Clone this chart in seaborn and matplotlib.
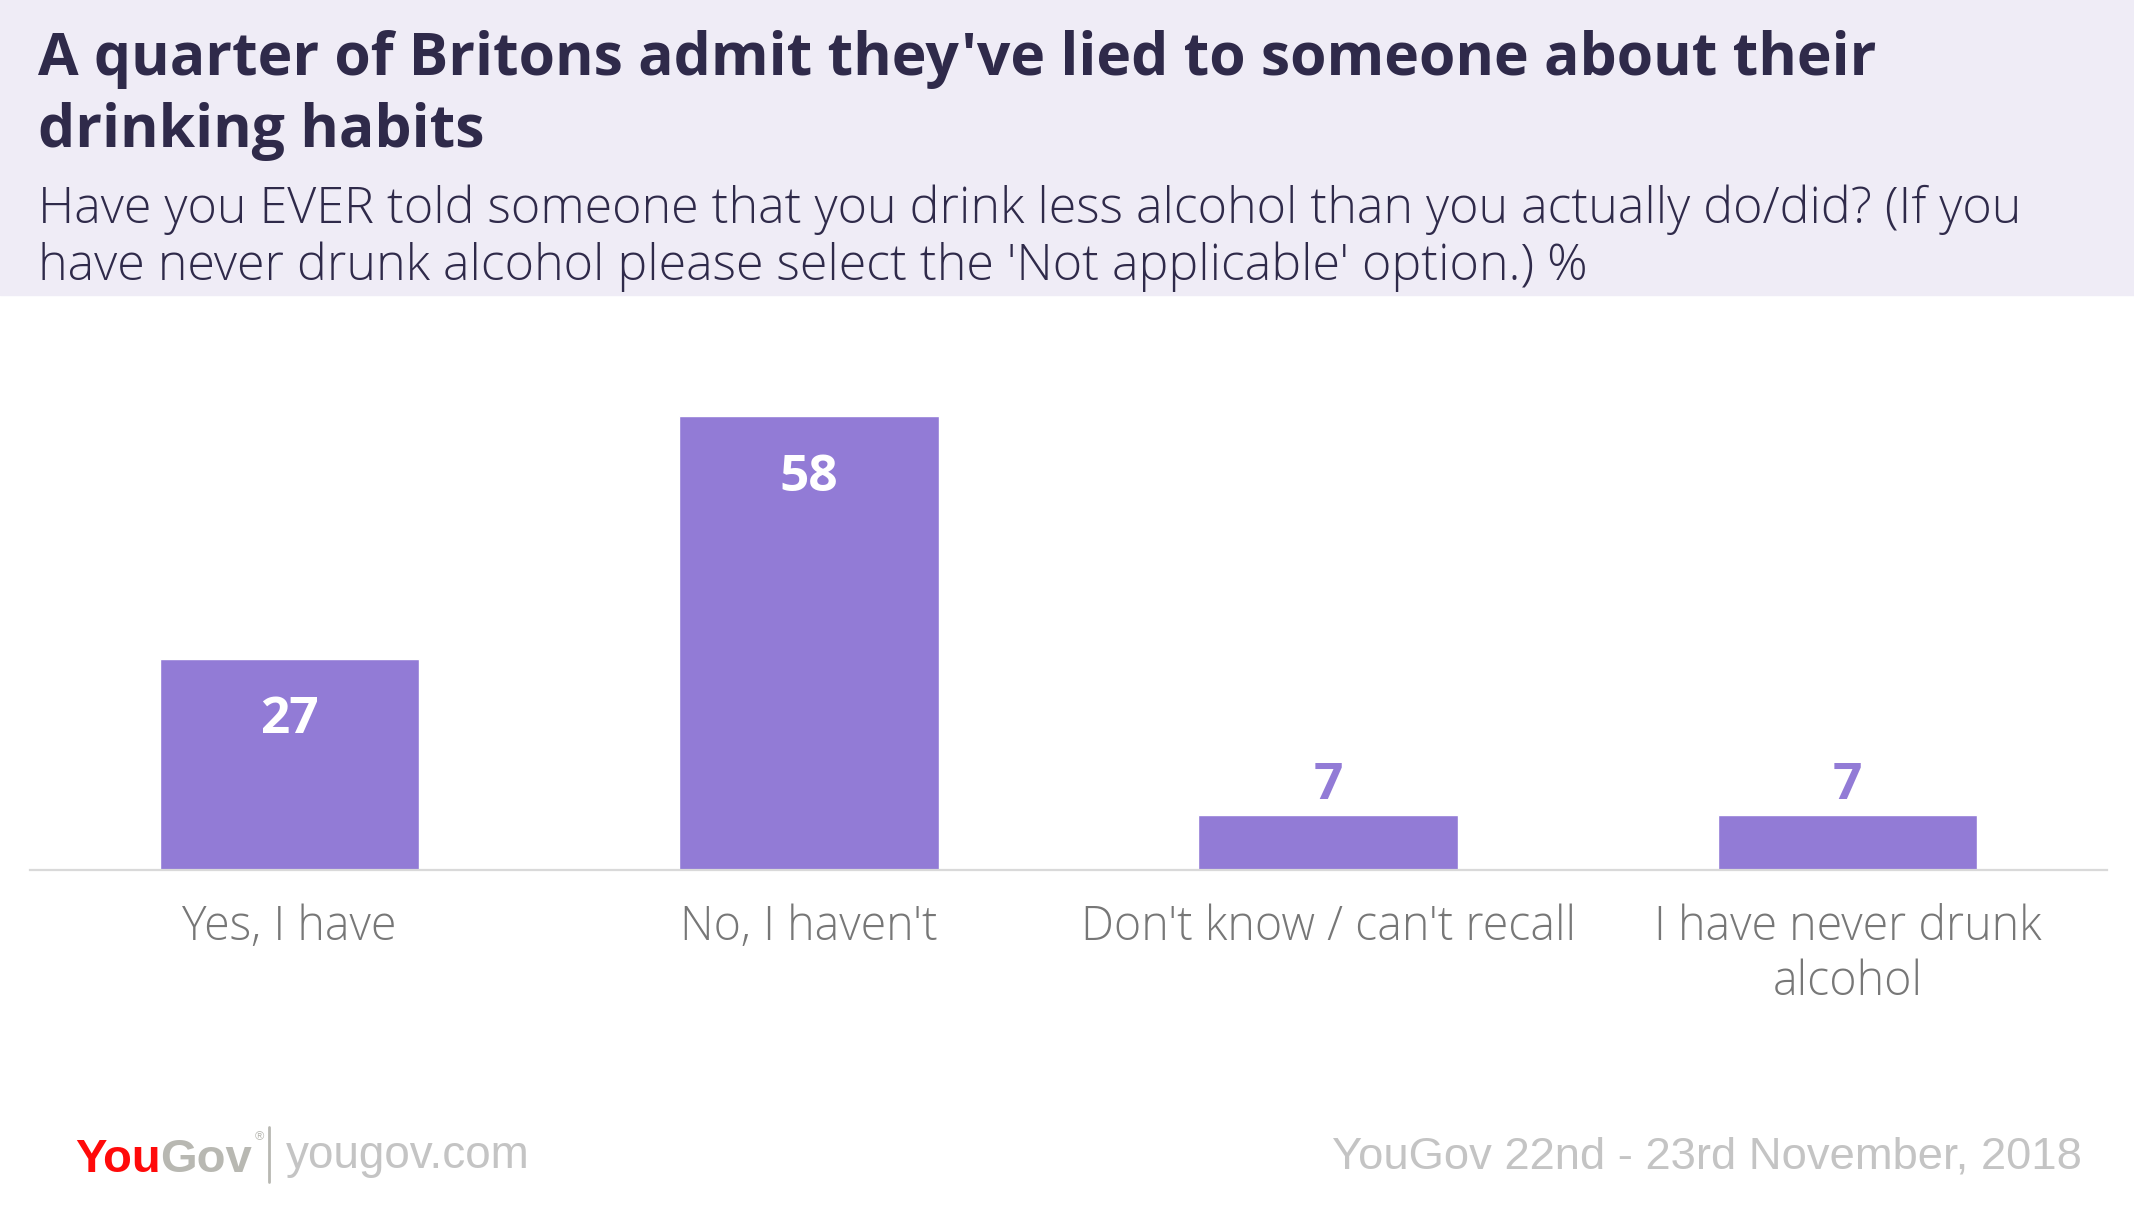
import matplotlib
matplotlib.use("Agg")
import matplotlib.pyplot as plt
import seaborn as sns
import pandas as pd

# chart data
categories = ["Yes, I have", "No, I haven't", "Don't know / can't recall",
              "I have never drunk\nalcohol"]
values = [27, 58, 7, 7]

title_lines = ["A quarter of Britons admit they've lied to someone about their",
               "drinking habits"]
subtitle_lines = ["Have you EVER told someone that you drink less alcohol than you actually do/did? (If you",
                  "have never drunk alcohol please select the 'Not applicable' option.) %"]
source_text = "YouGov 22nd - 23rd November, 2018"
site_text = "yougov.com"

# colours
BAR = "#927bd6"
HEADER_BG = "#efecf6"
TITLE_COL = "#2f2a4a"
TICK_COL = "#777777"
FOOT_COL = "#c4c4c4"

W, H = 2134, 1217

sns.set_theme(style="white")
plt.rcParams["font.family"] = ["Open Sans", "DejaVu Sans"]


def fx(px):
    return px / W


def fy(px):
    return 1 - px / H


fig = plt.figure(figsize=(W / 100, H / 100), dpi=100)
fig.patch.set_facecolor("white")

# header band
fig.patches.append(plt.Rectangle((0, fy(295)), 1, 295 / H, transform=fig.transFigure,
                                 color=HEADER_BG, zorder=0))

for line, base in zip(title_lines, [75, 147]):
    fig.text(fx(38), fy(base), line, fontsize=42.4, fontweight="bold", color=TITLE_COL,
             va="baseline", ha="left")
for line, base in zip(subtitle_lines, [223, 280]):
    fig.text(fx(38), fy(base), line, fontsize=36.2, fontweight="light", color=TITLE_COL,
             va="baseline", ha="left")

# bars
ax = fig.add_axes([fx(30), fy(870), fx(2107) - fx(30), (870 - 300) / H])
df = pd.DataFrame({"answer": categories, "pct": values})
sns.barplot(data=df, x="answer", y="pct", color=BAR, saturation=1, width=0.5, ax=ax)
ax.set_xlim(-0.5, 3.5)
ax.set_ylim(0, (870 - 300) / 7.82)
ax.set_facecolor("none")
for s in ["top", "left", "right"]:
    ax.spines[s].set_visible(False)
ax.spines["bottom"].set_color("#d9d9d9")
ax.spines["bottom"].set_linewidth(1.6)
ax.set_yticks([])
ax.set_xlabel("")
ax.set_ylabel("")
ax.tick_params(axis="x", length=0, pad=24, labelsize=33.5, labelcolor=TICK_COL)
for lab in ax.get_xticklabels():
    lab.set_linespacing(1.17)
    lab.set_fontweight("light")

for i, v in enumerate(values):
    if v > 15:
        ax.annotate(str(v), (i, v), xytext=(0, -44), textcoords="offset points",
                    ha="center", va="center", fontsize=37, fontweight="bold", color="white")
    else:
        ax.annotate(str(v), (i, v), xytext=(0, 21), textcoords="offset points",
                    ha="center", va="center", fontsize=37, fontweight="bold", color=BAR)

# footer
renderer = fig.canvas.get_renderer()
t_you = fig.text(fx(75), fy(1172), "You", fontsize=34, fontweight="bold", color="#ff0a0a",
                 family="Liberation Sans", va="baseline", ha="left")
bb = t_you.get_window_extent(renderer)
t_gov = fig.text(bb.x1 / W, fy(1172), "Gov", fontsize=34, fontweight="bold", color="#b8b8b2",
                 family="Liberation Sans", va="baseline", ha="left")
bb2 = t_gov.get_window_extent(renderer)
fig.text(bb2.x1 / W + 0.001, fy(1140), "®", fontsize=9, color="#b8b8b2",
         family="Liberation Sans", va="baseline", ha="left")
fig.add_artist(plt.Line2D([fx(269), fx(269)], [fy(1127), fy(1182)], transform=fig.transFigure,
                          color="#b8b8b2", linewidth=2))
fig.text(fx(286), fy(1168), site_text, fontsize=33, color=FOOT_COL,
         family="Liberation Sans", va="baseline", ha="left")
fig.text(fx(2082), fy(1169), source_text, fontsize=32.7, color=FOOT_COL,
         family="Liberation Sans", va="baseline", ha="right")

fig.savefig("out.png", dpi=100)
